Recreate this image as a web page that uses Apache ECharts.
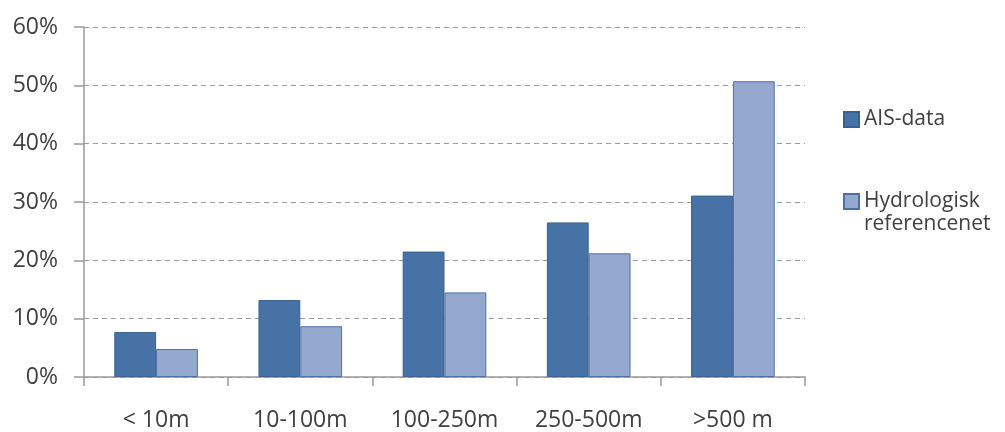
<!DOCTYPE html>
<html>
<head>
<meta charset="utf-8">
<script src="https://cdn.jsdelivr.net/npm/echarts@6/dist/echarts.min.js"></script>
<style>
  html, body { margin: 0; padding: 0; background: #ffffff; }
  #chart { width: 1005px; height: 432px; }
</style>
</head>
<body>
<div id="chart"></div>
<script>
// Distance classes
const categories = ['< 10m', '10-100m', '100-250m', '250-500m', '>500 m'];
// Share of observations per class, in percent
const aisData = [7.7, 13.2, 21.5, 26.5, 31.1];
const hydroData = [4.8, 8.7, 14.5, 21.2, 50.7];
const yTicks = [0, 10, 20, 30, 40, 50, 60];

const fontFamily = '"Open Sans", "Liberation Sans", sans-serif';
const textColor = '#404040';
const fontSize = 23;
const axisColor = '#999999';

const chart = echarts.init(document.getElementById('chart'), null, { renderer: 'canvas' });

chart.setOption({
  animation: false,
  backgroundColor: '#ffffff',
  grid: { left: 84, right: 200, top: 27, bottom: 53, containLabel: false },
  legend: {
    orient: 'vertical',
    left: 838,
    top: 103,
    itemWidth: 15,
    itemHeight: 15,
    itemGap: 36,
    icon: 'rect',
    selectedMode: false,
    data: ['AIS-data', 'Hydrologisk referencenet'],
    // two-word names wrap; the leading blank line keeps the swatch beside the first line
    formatter: function (name) {
      return name.indexOf(' ') >= 0 ? '\n' + name.replace(' ', '\n') : name;
    },
    textStyle: {
      fontFamily: fontFamily,
      fontSize: 21,
      lineHeight: 23,
      color: textColor
    }
  },
  xAxis: {
    type: 'category',
    data: categories,
    boundaryGap: true,
    axisLine: { lineStyle: { color: axisColor, width: 1.5 } },
    axisTick: { show: true, length: 9, alignWithLabel: false, lineStyle: { color: axisColor, width: 1.5 } },
    axisLabel: { margin: 32, fontFamily: fontFamily, fontSize: fontSize, color: textColor },
    splitLine: { show: false }
  },
  yAxis: {
    type: 'value',
    min: yTicks[0],
    max: yTicks[yTicks.length - 1],
    interval: 10,
    axisLine: { show: true, lineStyle: { color: axisColor, width: 1.5 } },
    axisTick: { show: true, length: 10, lineStyle: { color: axisColor, width: 1.5 } },
    axisLabel: {
      margin: 26,
      fontFamily: fontFamily,
      fontSize: fontSize,
      color: textColor,
      formatter: '{value}%'
    },
    splitLine: { show: true, lineStyle: { color: '#9a9a9a', width: 1.2, type: [5, 4] } }
  },
  series: [
    {
      name: 'AIS-data',
      type: 'bar',
      data: aisData,
      barGap: '0%',
      barCategoryGap: '42%',
      itemStyle: { color: '#4672a6', borderColor: '#3a6190', borderWidth: 1 }
    },
    {
      name: 'Hydrologisk referencenet',
      type: 'bar',
      data: hydroData,
      itemStyle: { color: '#95a9cf', borderColor: '#4a72a8', borderWidth: 1 }
    }
  ]
});
</script>
</body>
</html>
